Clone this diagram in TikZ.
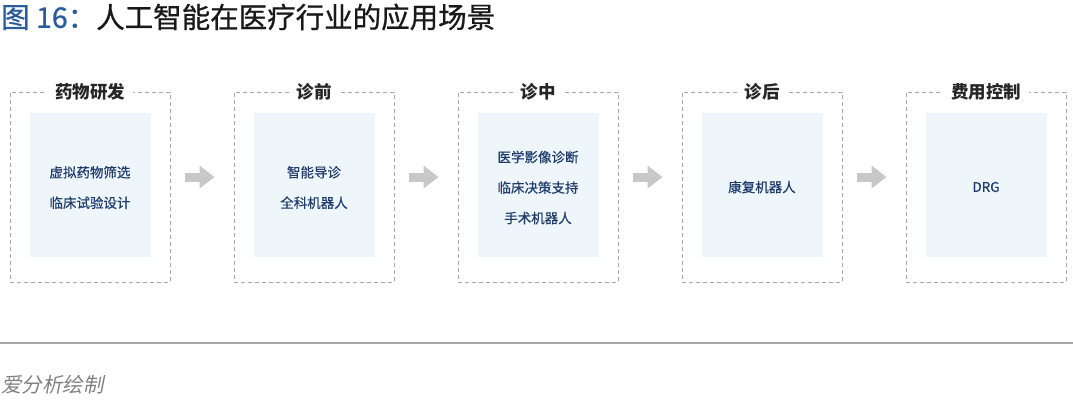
\documentclass[tikz,border=0pt]{standalone}
\usepackage{fontspec}
\setmainfont{Noto Sans CJK SC}
\newfontfamily\cjk{Noto Sans CJK SC}
\newfontfamily\cjkmed[FakeBold=0.8]{Noto Sans CJK SC}
\newfontfamily\cjkinner[FakeBold=0.4]{Noto Sans CJK SC}
\newfontfamily\cjkit[FakeSlant=0.2]{Noto Sans CJK SC}
\usetikzlibrary{arrows.meta}
\definecolor{titleblue}{HTML}{2A5B9A}
\definecolor{innerfill}{HTML}{EEF5FB}
\definecolor{innertext}{HTML}{1D3C6B}
\definecolor{dashgray}{HTML}{A8A8A8}
\definecolor{arrowgray}{HTML}{C8C8C8}
\begin{document}
\begin{tikzpicture}[x=1pt,y=-1pt,
  outerbox/.style={draw=dashgray, line width=0.9pt, dash pattern=on 4pt off 3pt, minimum width=160pt, minimum height=190pt, inner sep=0pt},
  innerbox/.style={fill=innerfill, minimum width=121pt, minimum height=144pt, inner sep=0pt},
  innertxt/.style={inner sep=0pt, align=center, text=innertext, font=\cjkinner\fontsize{13.5}{30.5}\selectfont},
  boxtitle/.style={fill=white, inner xsep=8pt, inner ysep=2pt, text=black!85, font=\cjk\bfseries\fontsize{17.5}{20}\selectfont},
  flowarrow/.style={draw=arrowgray, line width=9pt, -{Triangle[length=15pt,width=22pt]}, shorten <=15pt, shorten >=19pt}
]
\useasboundingbox (0,0) rectangle (1073,400);
% title
\node[anchor=west, inner sep=0pt, font=\cjkmed\fontsize{28.5}{30}\selectfont] (title) at (1,17) {\textcolor{titleblue}{图 16：}\textcolor{black!90}{人工智能在医疗行业的应用场景}};
% boxes
\foreach \i/\x in {1/90,2/314,3/538,4/762,5/986}{
  \node[outerbox] (o\i) at (\x,187) {};
  \node[innerbox] (in\i) at (\x,185) {};
}
\node[boxtitle] (t1) at (o1.north) {药物研发};
\node[boxtitle] (t2) at (o2.north) {诊前};
\node[boxtitle] (t3) at (o3.north) {诊中};
\node[boxtitle] (t4) at (o4.north) {诊后};
\node[boxtitle] (t5) at (o5.north) {费用控制};
\node[innertxt] (c1) at ([yshift=-2.5pt]in1.center) {虚拟药物筛选\\临床试验设计};
\node[innertxt] (c2) at ([yshift=-2.5pt]in2.center) {智能导诊\\全科机器人};
\node[innertxt] (c3) at ([yshift=-2.5pt]in3.center) {医学影像诊断\\临床决策支持\\手术机器人};
\node[innertxt] (c4) at ([yshift=-2pt]in4.center) {康复机器人};
\node[innertxt] (c5) at ([yshift=-2pt]in5.center) {DRG};
% arrows
\foreach \a/\b in {1/2,2/3,3/4,4/5}{
  \draw[flowarrow] ([yshift=10pt]o\a.east) -- ([yshift=10pt]o\b.west);
}
% footer
\coordinate (l1) at (0,343);
\coordinate (l2) at (1073,343);
\draw[black!35, line width=1.2pt] (l1) -- (l2);
\node[anchor=west, inner sep=0pt, text=black!50, font=\cjkit\fontsize{20.5}{22}\selectfont] (src) at (1,385) {爱分析绘制};
\end{tikzpicture}
\end{document}
